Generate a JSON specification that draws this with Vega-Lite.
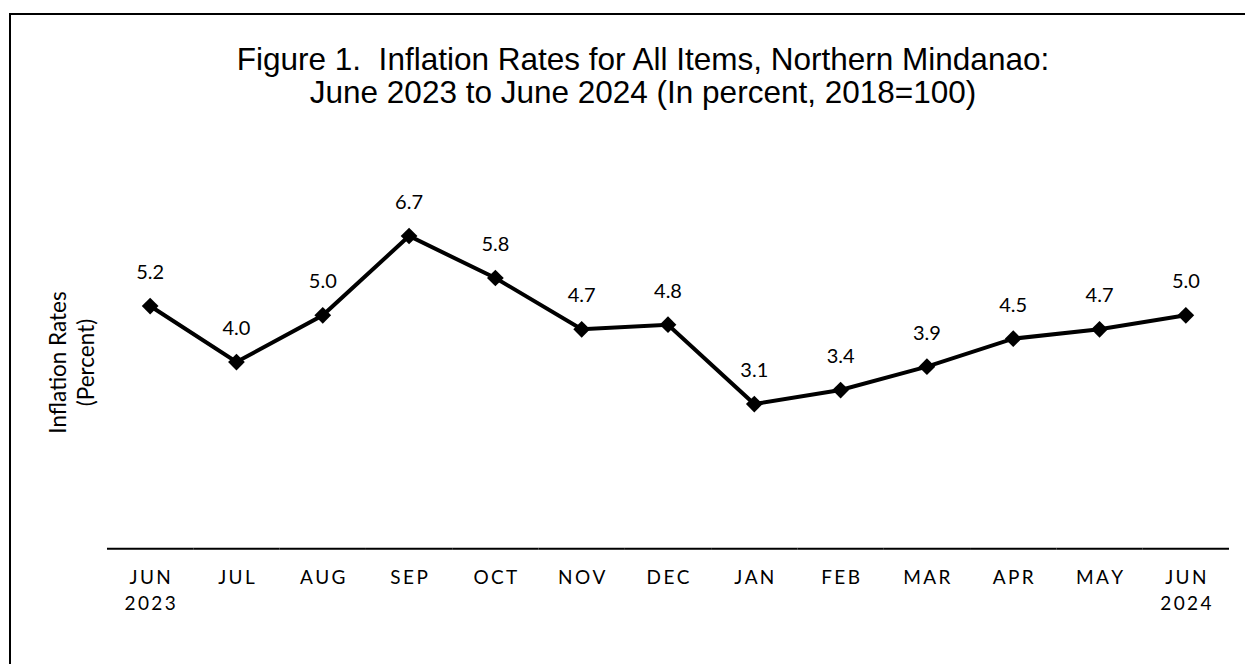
{
  "$schema": "https://vega.github.io/schema/vega-lite/v6.json",
  "width": 1240,
  "height": 655,
  "autosize": {"type": "none"},
  "padding": {"left": 10, "top": 14, "right": 0, "bottom": 0},
  "background": "white",
  "title": {
    "text": ["Figure 1.\u00a0 Inflation Rates for All Items, Northern Mindanao:", "June 2023 to June 2024 (In percent, 2018=100)"],
    "font": "Liberation Sans",
    "fontSize": 31.5,
    "fontWeight": "normal",
    "color": "black",
    "lineHeight": 33,
    "anchor": "middle",
    "frame": "group",
    "baseline": "alphabetic",
    "offset": 0,
    "dy": 120,
    "dx": 13
  },
  "data": {
    "values": [
      {"m": "JUN 2023", "v": 5.2},
      {"m": "JUL", "v": 4.0},
      {"m": "AUG", "v": 5.0},
      {"m": "SEP", "v": 6.7},
      {"m": "OCT", "v": 5.8},
      {"m": "NOV", "v": 4.7},
      {"m": "DEC", "v": 4.8},
      {"m": "JAN", "v": 3.1},
      {"m": "FEB", "v": 3.4},
      {"m": "MAR", "v": 3.9},
      {"m": "APR", "v": 4.5},
      {"m": "MAY", "v": 4.7},
      {"m": "JUN 2024", "v": 5.0}
    ]
  },
  "encoding": {
    "x": {
      "field": "m",
      "type": "nominal",
      "sort": null,
      "title": null,
      "scale": {"type": "band", "paddingInner": 0, "paddingOuter": 0.6836, "align": 0.822},
      "axis": {
        "orient": "bottom",
        "offset": -120,
        "domain": false,
        "ticks": false,
        "grid": false,
        "labelAngle": 0,
        "labelFont": "Lato",
        "labelFontSize": 19,
        "labelColor": "black",
        "labelPadding": 34,
        "labelBaseline": "alphabetic",
        "labelLineHeight": 26,
        "labelOverlap": false,
        "labelBound": false,
        "labelFlush": false,
        "labelExpr": "split(join(split(datum.value, ''), '\u2009'), '\u2009 \u2009')"
      }
    },
    "y": {
      "field": "v",
      "type": "quantitative",
      "title": ["Inflation Rates", "(Percent)"],
      "scale": {"domain": [-2.578, 11.457], "nice": false, "zero": false},
      "axis": {
        "domain": false,
        "ticks": false,
        "labels": false,
        "grid": false,
        "titleX": 55,
        "titleY": 348,
        "titleAngle": 270,
        "titleAlign": "center",
        "titleBaseline": "alphabetic",
        "titleFont": "Lato",
        "titleFontSize": 22.5,
        "titleFontWeight": "normal",
        "titleColor": "black",
        "titleLineHeight": 28
      }
    }
  },
  "layer": [
    {
      "mark": {"type": "rule", "color": "black", "strokeWidth": 2},
      "encoding": {
        "x": {"field": "m", "type": "nominal", "sort": null, "bandPosition": 0},
        "x2": {"field": "m", "bandPosition": 1},
        "y": {"datum": 0, "type": "quantitative"}
      }
    },
    {
      "mark": {"type": "line", "color": "black", "strokeWidth": 4}
    },
    {
      "mark": {"type": "point", "shape": "diamond", "filled": true, "size": 280, "color": "black", "opacity": 1}
    },
    {
      "mark": {"type": "text", "dy": -27, "baseline": "alphabetic", "font": "Lato", "fontSize": 20, "color": "black"},
      "encoding": {"text": {"field": "v", "type": "quantitative", "format": ".1f"}}
    }
  ],
  "config": {
    "view": {"stroke": "black", "strokeWidth": 2, "fill": "white"},
    "font": "Lato"
  }
}
